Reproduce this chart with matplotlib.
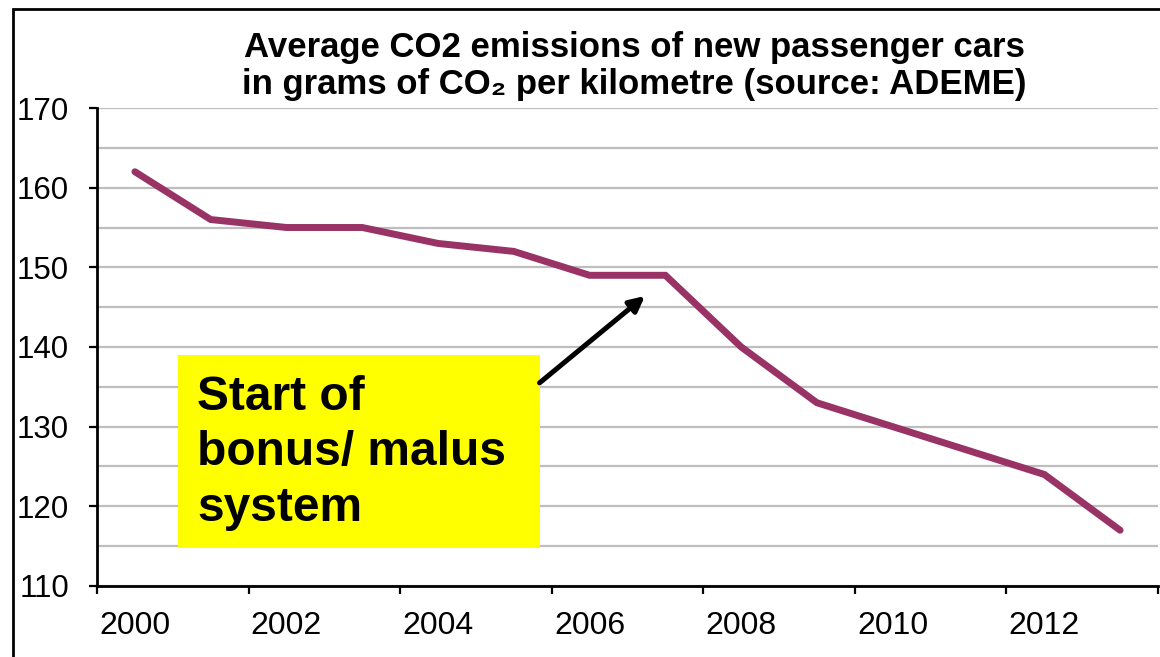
import matplotlib
matplotlib.use("Agg")
import matplotlib.pyplot as plt
from matplotlib.patches import Rectangle
from matplotlib.ticker import FixedLocator, NullFormatter

years = [2000, 2001, 2002, 2003, 2004, 2005, 2006, 2007, 2008, 2009, 2010, 2011, 2012, 2013]
co2 = [162, 156, 155, 155, 153, 152, 149, 149, 140, 133, 130, 127, 124, 117]
label_years = ["2000", "2002", "2004", "2006", "2008", "2010", "2012"]
title = "Average CO2 emissions of new passenger cars\nin grams of CO\u2082 per kilometre (source: ADEME)"
note = "Start of\nbonus/ malus\nsystem"

plt.rcParams['font.family'] = ['Liberation Sans', 'DejaVu Sans']

W, H = 1160, 657
fig = plt.figure(figsize=(W / 100, H / 100), dpi=100)
ax = fig.add_axes([97 / W, 1 - 586 / H, (1158 - 97) / W, (586 - 108) / H])

x = list(range(len(years)))
ax.plot(x, co2, color='#993366', lw=5, solid_capstyle='round', solid_joinstyle='miter', zorder=3)

ax.set_xlim(-0.5, len(years) - 0.5)
ax.set_ylim(110, 170)

# y axis
ax.set_yticks(range(110, 171, 10))
ax.yaxis.set_minor_locator(FixedLocator(range(115, 170, 10)))
ax.grid(axis='y', which='both', color='#BEBEBE', lw=1.6, zorder=1)
ax.tick_params(axis='y', which='major', direction='out', length=6, width=1.6,
               labelsize=22.5, pad=14, color='black')
ax.tick_params(axis='y', which='minor', length=0)

# x axis: tick marks at category boundaries every 2 categories, labels at centres
ax.set_xticks([i for i in range(0, len(years), 2)])
ax.set_xticklabels(label_years)
ax.xaxis.set_minor_locator(FixedLocator([i - 0.5 for i in range(0, len(years) + 1, 2)]))
ax.xaxis.set_minor_formatter(NullFormatter())
ax.tick_params(axis='x', which='major', length=0, labelsize=23, pad=18)
ax.tick_params(axis='x', which='minor', direction='out', length=6, width=1.6, color='black')

for s in ['top', 'right']:
    ax.spines[s].set_visible(False)
for s in ['left', 'bottom']:
    ax.spines[s].set_linewidth(2)
    ax.spines[s].set_color('black')
    ax.spines[s].set_zorder(4)

# Title
fig.text(634 / W, 1 - 66 / H, title, ha='center', va='center', fontsize=25,
         fontweight='bold', linespacing=1.12)

# Yellow annotation box
ax.add_patch(Rectangle((0.57, 114.8), 5.34 - 0.57, 139.0 - 114.8, facecolor='#FFFF00',
                       edgecolor='none', zorder=5))
ax.text(0.82, 126.7, note, ha='left', va='center', fontsize=34.5, fontweight='bold',
        linespacing=1.3, zorder=6)
ax.annotate('', xy=(6.73, 146.4), xytext=(5.34, 135.5),
            arrowprops=dict(arrowstyle='-|>,head_length=0.9,head_width=0.45', color='black',
                            lw=3.6, shrinkA=0, shrinkB=0), zorder=6)

# outer frame
fig.patches.append(Rectangle((13 / W, -0.1), 1.2, 1 - 9 / H + 0.1, transform=fig.transFigure,
                             fill=False, edgecolor='black', lw=2))

fig.savefig('out.png', dpi=100)
